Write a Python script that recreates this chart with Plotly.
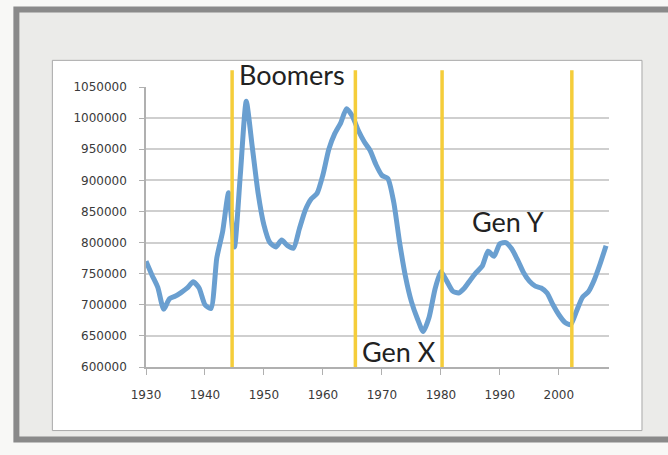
import plotly.graph_objects as go

years = list(range(1930, 2009))
births = [
    770000, 748000, 728000, 693000, 710000, 714000, 720000, 727000, 737000, 727000,
    700000, 694000, 775000, 818000, 880000, 793000, 910000, 1027000, 955000, 880000,
    828000, 800000, 793000, 804000, 795000, 791000, 822000, 852000, 870000, 879000,
    909000, 950000, 975000, 992000, 1015000, 1003000, 980000, 962000, 948000, 925000,
    908000, 903000, 865000, 800000, 745000, 705000, 678000, 657000, 680000, 725000,
    753000, 738000, 722000, 719000, 727000, 740000, 752000, 762000, 786000, 778000,
    798000, 800000, 790000, 772000, 752000, 738000, 730000, 727000, 719000, 700000,
    684000, 672000, 668000, 690000, 712000, 721000, 740000, 766000, 795000,
]
gen_lines = [1944.6, 1965.5, 1980.2, 2002.2]
labels = ["Boomers", "Gen X", "Gen Y"]
xticks = [1930, 1940, 1950, 1960, 1970, 1980, 1990, 2000]
yticks = list(range(600000, 1050001, 50000))

W, H = 668, 455
L, R, T, B = 145.7, 59, 86.7, 87.7
PW, PH = W - L - R, H - T - B

def px(x):
    return (x - L) / PW

def py(y):
    return (H - B - y) / PH

label_pos = [(292, 74), (399, 352), (508, 221)]
label_size = [27, 27, 27]

fig = go.Figure()
fig.add_trace(go.Scatter(
    x=years, y=births, mode="lines",
    line=dict(color="#6a9fd0", width=5, shape="spline", smoothing=0.6),
    hoverinfo="skip", showlegend=False,
))

shapes = [
    dict(type="rect", xref="paper", yref="paper", x0=px(16), x1=px(690), y0=py(9), y1=py(440),
         fillcolor="#ebebe9", line=dict(color="#8a8a8a", width=6), layer="below"),
    dict(type="rect", xref="paper", yref="paper", x0=px(52), x1=px(642), y0=py(60), y1=py(431),
         fillcolor="#ffffff", line=dict(color="#a8a8a8", width=1), layer="below"),
]
for gx in gen_lines:
    shapes.append(dict(type="line", xref="x", yref="paper", x0=gx, x1=gx, y0=0, y1=py(70),
                       line=dict(color="#f5cd3a", width=3.5), layer="above"))

annotations = []
for t, (ax, ay), fs in zip(labels, label_pos, label_size):
    annotations.append(dict(x=px(ax), y=py(ay), xref="paper", yref="paper", text=t, showarrow=False,
                            font=dict(family="Lato", size=fs, color="#222222"),
                            xanchor="center", yanchor="middle"))

fig.update_layout(
    width=W, height=H,
    margin=dict(l=L, r=R, t=T, b=B, pad=0),
    paper_bgcolor="#f8f8f6", plot_bgcolor="rgba(0,0,0,0)",
    shapes=shapes, annotations=annotations,
    xaxis=dict(range=[1930, 2008.5], tickvals=xticks, ticks="outside", ticklen=6,
               tickcolor="#b0b0b0", showgrid=False, zeroline=False, showline=True,
               linecolor="#b0b0b0", linewidth=1.5, ticklabelstandoff=10,
               tickfont=dict(family="DejaVu Sans", size=12, color="#3a3a3a")),
    yaxis=dict(range=[600000, 1050000], tickvals=yticks, tickformat="d", ticks="outside", ticklen=5,
               tickcolor="#b0b0b0", showgrid=True, gridcolor="#cfcfcf", gridwidth=1.5,
               zeroline=False, showline=True, linecolor="#b0b0b0", linewidth=1.5,
               ticklabelstandoff=10,
               tickfont=dict(family="DejaVu Sans", size=12, color="#3a3a3a")),
    font=dict(family="DejaVu Sans"),
)

fig.write_html("out.html", config={"displayModeBar": False},
               post_script="document.body.style.margin='0';")
